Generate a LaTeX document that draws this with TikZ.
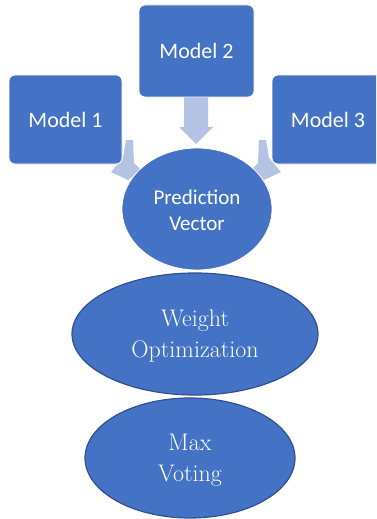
\documentclass[tikz,border=0pt]{standalone}
\usepackage{fontspec}
\newfontfamily\calib{Carlito}
\usetikzlibrary{shapes.geometric}
\definecolor{fillblue}{HTML}{4472C4}
\definecolor{edgeblue}{HTML}{2F528F}
\definecolor{arrowblue}{HTML}{B4C3E3}
\tikzset{
  modelbox/.style={fill=fillblue, draw=white, line width=0.8pt, rounded corners=6pt},
  lbl/.style={text=white, align=center, inner sep=0pt},
  sanslbl/.style={lbl, font=\calib\fontsize{22}{26}\selectfont},
  seriflbl/.style={lbl, font=\fontsize{24}{31}\selectfont},
  blockarrow/.style={fill=arrowblue, draw=none},
  ovalshape/.style={fill=fillblue, draw=edgeblue, line width=1.2pt}
}
\begin{document}
\begin{tikzpicture}[x=1pt,y=-1pt]
\useasboundingbox (0,0) rectangle (376,519);
\clip (0,0) rectangle (376,519);
% arrows (behind)
\fill[blockarrow] (126,140) -- (133,140) -- (134,163) -- (141,170) -- (128,180) -- (111,172) -- (123,158) -- cycle;
\fill[blockarrow] (266,140) -- (259,140) -- (258,163) -- (251,170) -- (264,180) -- (281,172) -- (269,158) -- cycle;
\fill[blockarrow] (184,95) -- (208,95) -- (208,127) -- (213,127) -- (196,144) -- (179,127) -- (184,127) -- cycle;
% boxes
\draw[modelbox] (9,75) rectangle (122,164);
\draw[modelbox] (139,5) rectangle (254,97);
\draw[modelbox] (272,75) rectangle (386,164);
\node[sanslbl] (m1) at (65.5,119.5) {Model 1};
\node[sanslbl] (m2) at (196.5,51) {Model 2};
\node[sanslbl] (m3) at (328,119.5) {Model 3};
% ellipses
\fill[fillblue, draw=white, line width=0.8pt] (197,209) ellipse [x radius=75, y radius=61];
\node[sanslbl, font=\calib\fontsize{21}{26}\selectfont] (pv) at (197,210) {Prediction\\Vector};
\draw[ovalshape] (195,334) ellipse [x radius=123, y radius=61];
\node[seriflbl] (wo) at (195,336) {Weight\\Optimization};
\draw[ovalshape] (190,458) ellipse [x radius=105, y radius=60];
\node[seriflbl] (mv) at (190,460) {Max\\Voting};
\end{tikzpicture}
\end{document}
